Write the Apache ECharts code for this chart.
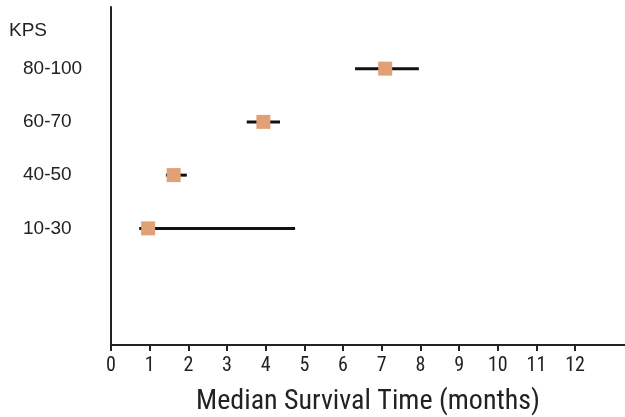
<!DOCTYPE html>
<html><head><meta charset="utf-8">
<script src="https://cdn.jsdelivr.net/npm/echarts@6/dist/echarts.min.js"></script>
<style>html,body{margin:0;padding:0;background:#fff}#c{width:625px;height:417px}</style>
</head><body><div id="c"></div>
<script>
const categories = ['10-30', '40-50', '60-70', '80-100'];
const medians = [0.96, 1.62, 3.94, 7.09];
const lower = [0.73, 1.42, 3.51, 6.31];
const upper = [4.76, 1.96, 4.37, 7.96];
const xTicks = [0,1,2,3,4,5,6,7,8,9,10,11,12];

const chart = echarts.init(document.getElementById('c'), null, {renderer:'canvas'});
const axisColor = '#222';
const narrow = '"Liberation Sans Narrow", "Roboto Condensed", "Liberation Sans", sans-serif';
const option = {
  animation: false,
  title: { text: 'KPS', left: 9, top: 21, padding: 0, textStyle: { fontFamily: 'Liberation Sans', fontSize: 19, fontWeight: 'normal', color: '#222' } },
  grid: [
    { left: 111, right: 0, top: 7, bottom: 72, containLabel: false, outerBoundsMode: 'none' },
    { left: 111, right: 0, top: 42, bottom: 162, containLabel: false, outerBoundsMode: 'none' }
  ],
  xAxis: [
    { gridIndex: 0, type: 'value', min: 0, max: 13.29,
      axisLine: { show: true, lineStyle: { color: axisColor, width: 2 } },
      axisTick: { show: true, customValues: xTicks, length: 6, lineStyle: { color: axisColor, width: 2 } },
      axisLabel: { customValues: xTicks, margin: 11, fontFamily: narrow, fontSize: 20, color: '#222' },
      splitLine: { show: false },
      name: 'Median Survival Time (months)', nameLocation: 'middle', nameGap: 43,
      nameTextStyle: { fontFamily: narrow, fontSize: 28, color: '#222' }
    },
    { gridIndex: 1, type: 'value', min: 0, max: 13.29, show: false }
  ],
  yAxis: [
    { gridIndex: 0, type: 'value', min: 0, max: 1,
      axisLine: { show: true, lineStyle: { color: axisColor, width: 2 } },
      axisTick: { show: false }, axisLabel: { show: false }, splitLine: { show: false } },
    { gridIndex: 1, type: 'category', data: categories,
      axisLine: { show: false }, axisTick: { show: false },
      axisLabel: { align: 'left', margin: 88, fontFamily: 'Liberation Sans', fontSize: 19, color: '#222' },
      splitLine: { show: false } }
  ],
  series: [
    { type: 'custom', xAxisIndex: 1, yAxisIndex: 1,
      data: categories.map((c, i) => [i, lower[i], upper[i]]),
      encode: { x: [1, 2], y: 0 },
      renderItem: function (params, api) {
        const cat = api.value(0);
        const p1 = api.coord([api.value(1), cat]);
        const p2 = api.coord([api.value(2), cat]);
        return { type: 'line', shape: { x1: p1[0], y1: p1[1], x2: p2[0], y2: p2[1] },
          style: { stroke: '#111', lineWidth: 3 } };
      }
    },
    { type: 'scatter', xAxisIndex: 1, yAxisIndex: 1, symbol: 'rect', symbolSize: 14,
      itemStyle: { color: '#E1A075', opacity: 1 },
      data: categories.map((c, i) => [medians[i], c]), z: 5 }
  ]
};
chart.setOption(option);
</script></body></html>
